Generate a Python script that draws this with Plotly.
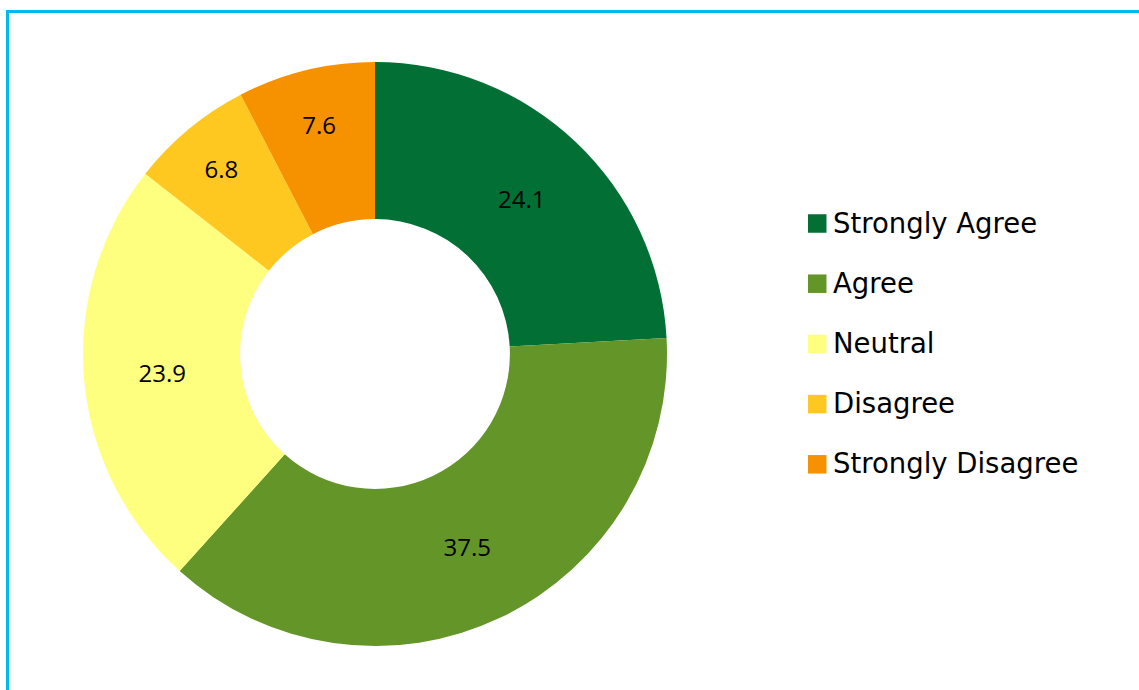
import plotly.graph_objects as go

categories = ["Strongly Agree", "Agree", "Neutral", "Disagree", "Strongly Disagree"]
values = [24.1, 37.5, 23.9, 6.8, 7.6]
colors = ["#026F35", "#639529", "#FFFF7F", "#FEC821", "#F69100"]

W, H = 1139, 690
LABEL_FONT = "Open Sans"
LEGEND_FONT = "DejaVu Sans"

fig = go.Figure(
    go.Pie(
        labels=categories,
        values=values,
        text=[f"{v:.1f}" for v in values],
        textinfo="text",
        textposition="inside",
        insidetextorientation="horizontal",
        textfont=dict(family=LABEL_FONT, size=24, color="#000000"),
        marker=dict(colors=colors, line=dict(width=0)),
        hole=0.462,
        sort=False,
        direction="clockwise",
        rotation=0,
        showlegend=False,
        domain=dict(x=[83 / W, 667 / W], y=[1 - 646 / H, 1 - 62 / H]),
    )
)

# Legend drawn as colour squares with labels beside them
shapes = []
annotations = []
sq_x0, sq_size, first_cy, step = 808, 18.5, 223.5, 60.2
for i, (cat, col) in enumerate(zip(categories, colors)):
    cy = first_cy + i * step
    shapes.append(dict(
        type="rect", xref="paper", yref="paper",
        x0=sq_x0 / W, x1=(sq_x0 + sq_size) / W,
        y0=1 - (cy + sq_size / 2) / H, y1=1 - (cy - sq_size / 2) / H,
        fillcolor=col, line=dict(width=0),
    ))
    annotations.append(dict(
        text=cat, xref="paper", yref="paper",
        x=831 / W, y=1 - (cy - 1) / H, xanchor="left", yanchor="middle",
        showarrow=False, font=dict(family=LEGEND_FONT, size=27.5, color="#000000"),
    ))

# Frame line along the top and left of the chart area
shapes.append(dict(
    type="rect", xref="paper", yref="paper",
    x0=7.5 / W, x1=1.02, y0=-0.02, y1=1 - 11.5 / H,
    line=dict(color="#00B9F2", width=3), fillcolor="rgba(0,0,0,0)",
))

fig.update_layout(
    width=W, height=H,
    margin=dict(l=0, r=0, t=0, b=0),
    paper_bgcolor="#FFFFFF",
    plot_bgcolor="#FFFFFF",
    shapes=shapes,
    annotations=annotations,
)

fig.write_html("out.html")
